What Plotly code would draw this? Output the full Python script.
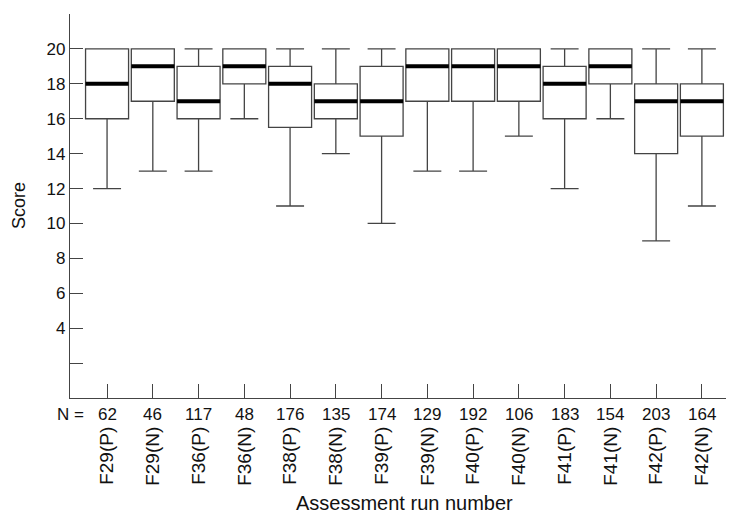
import plotly.graph_objects as go

categories = ["F29(P)", "F29(N)", "F36(P)", "F36(N)", "F38(P)", "F38(N)", "F39(P)",
              "F39(N)", "F40(P)", "F40(N)", "F41(P)", "F41(N)", "F42(P)", "F42(N)"]
n_values = [62, 46, 117, 48, 176, 135, 174, 129, 192, 106, 183, 154, 203, 164]
minimum = [12, 13, 13, 16, 11, 14, 10, 13, 13, 15, 12, 16, 9, 11]
lower_quartile = [16, 17, 16, 18, 15.5, 16, 15, 17, 17, 17, 16, 18, 14, 15]
median = [18, 19, 17, 19, 18, 17, 17, 19, 19, 19, 18, 19, 17, 17]
upper_quartile = [20, 20, 19, 20, 19, 18, 19, 20, 20, 20, 19, 20, 18, 18]
maximum = [20, 20, 20, 20, 20, 20, 20, 20, 20, 20, 20, 20, 20, 20]
y_tick_values = [2, 4, 6, 8, 10, 12, 14, 16, 18, 20, 22]
y_tick_labels = ["", "4", "6", "8", "10", "12", "14", "16", "18", "20", ""]

FONT = "Liberation Sans, Arial, sans-serif"

fig = go.Figure()
fig.add_trace(go.Box(
    x=categories, q1=lower_quartile, median=median, q3=upper_quartile,
    lowerfence=minimum, upperfence=maximum,
    width=0.94, whiskerwidth=0.65,
    fillcolor="white", line=dict(color="#444444", width=1.3),
    boxpoints=False, hoverinfo="skip", showlegend=False,
))
# thick median bars
fig.add_trace(go.Box(
    x=categories, q1=median, median=median, q3=median,
    lowerfence=median, upperfence=median,
    width=0.94, whiskerwidth=0.65,
    fillcolor="rgba(0,0,0,0)", line=dict(color="black", width=4),
    boxpoints=False, hoverinfo="skip", showlegend=False,
))

annotations = []
for c, n in zip(categories, n_values):
    annotations.append(dict(x=c, xref="x", y=0, yref="paper", yshift=-16,
                            text=str(n), showarrow=False, yanchor="middle",
                            font=dict(size=17, color="#111")))
annotations.append(dict(x=0, xref="paper", y=0, yref="paper", yshift=-16,
                        text="N =", showarrow=False, xanchor="center", yanchor="middle",
                        font=dict(size=17, color="#111")))
annotations.append(dict(x=0, xref="paper", xshift=-51, y=0.5, yref="paper",
                        text="Score", textangle=-90, showarrow=False,
                        xanchor="center", yanchor="middle",
                        font=dict(size=18, color="#111")))
annotations.append(dict(x=0.5, xref="paper", xshift=3, y=0, yref="paper", yshift=-105,
                        text="Assessment run number", showarrow=False,
                        xanchor="center", yanchor="middle",
                        font=dict(size=20, color="#111")))

# page body has an 8px margin: size and margins compensate for it
fig.update_layout(
    width=726, height=505,
    margin=dict(l=62, r=1, t=6, b=115),
    paper_bgcolor="white", plot_bgcolor="white",
    boxmode="overlay",
    font=dict(family=FONT, size=17, color="#111"),
    annotations=annotations,
    xaxis=dict(type="category", range=[-0.81, 13.68], showline=True, linecolor="#444",
               linewidth=1.3, ticks="inside", ticklen=14, tickcolor="#444", tickwidth=1.3,
               tickangle=-90, ticklabelstandoff=20, showgrid=False, zeroline=False,
               tickfont=dict(size=19)),
    yaxis=dict(range=[0, 22], showline=True, linecolor="#444", linewidth=1.3,
               ticks="inside", ticklen=13, tickcolor="#444", tickwidth=1.3,
               tickvals=y_tick_values, ticktext=y_tick_labels, showgrid=False,
               zeroline=False, tickfont=dict(size=17)),
)

fig.write_html("out.html")
